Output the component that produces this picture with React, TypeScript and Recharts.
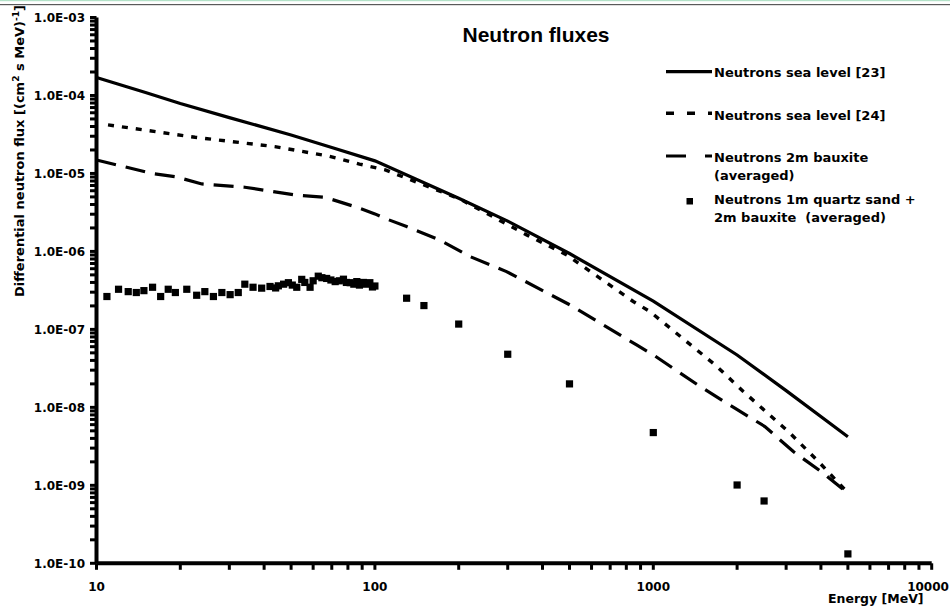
import React from 'react';
import { ComposedChart, Line, Scatter, XAxis, YAxis } from 'recharts';

const W = 950;
const H = 614;

// Neutrons sea level [23]
const sea23Energy = [10, 15, 20, 30, 50, 70, 100, 200, 300, 500, 1000, 2000, 3000, 5000];
const sea23Flux = [1.7e-4, 1.09e-4, 7.9e-5, 5.2e-5, 3.12e-5, 2.15e-5, 1.45e-5, 4.8e-6, 2.45e-6, 9.4e-7, 2.3e-7, 4.7e-8, 1.64e-8, 4.2e-9];

// Neutrons sea level [24]
const sea24Energy = [11, 22.6, 43.7, 68, 88, 109, 202, 351, 489, 847, 973, 1667, 2105, 3097, 3971, 5000];
const sea24Flux = [4.2e-5, 2.91e-5, 2.21e-5, 1.67e-5, 1.32e-5, 1.11e-5, 4.7e-6, 1.63e-6, 9.0e-7, 2.28e-7, 1.69e-7, 3.51e-8, 1.6e-8, 4.67e-9, 1.92e-9, 8.0e-10];

// Neutrons 2m bauxite (averaged)
const bauxEnergy = [10, 15.8, 19.2, 23.9, 34.1, 51.6, 66, 84.8, 100, 110, 130, 171, 220, 297, 502, 871, 1000, 1473, 1963, 2516, 3184, 4080, 5000];
const bauxFlux = [1.49e-5, 1.0e-5, 9.1e-6, 7.33e-6, 6.65e-6, 5.3e-6, 4.96e-6, 3.75e-6, 3.03e-6, 2.61e-6, 2.08e-6, 1.4e-6, 8.57e-7, 5.51e-7, 2.06e-7, 6.32e-8, 4.71e-8, 1.85e-8, 9.77e-9, 5.68e-9, 2.71e-9, 1.43e-9, 7.9e-10];

// Neutrons 1m quartz sand + 2m bauxite (averaged)
const quartzEnergy = [10.9, 12.0, 13.0, 13.9, 14.8, 15.9, 17.0, 18.1, 19.2, 21.1, 22.9, 24.5, 26.3, 28.2, 30.2, 32.3, 34.1, 36.5, 39.2, 42.0, 44, 45.0, 47, 48.9, 50.5, 52.4, 54.6, 56, 58.5, 60, 62.6, 64.5, 67.1, 69.5, 72.0, 74.5, 77.1, 79, 81.5, 84, 86.1, 88, 90.9, 93, 95.9, 98, 100, 130, 150, 200, 300, 500, 1000, 2000, 2500, 5000];
const quartzFlux = [2.64e-7, 3.27e-7, 3.05e-7, 2.97e-7, 3.14e-7, 3.47e-7, 2.64e-7, 3.27e-7, 2.97e-7, 3.27e-7, 2.74e-7, 3.05e-7, 2.64e-7, 2.97e-7, 2.79e-7, 2.97e-7, 3.8e-7, 3.47e-7, 3.38e-7, 3.55e-7, 3.4e-7, 3.62e-7, 3.8e-7, 3.97e-7, 3.7e-7, 3.47e-7, 4.38e-7, 4.0e-7, 3.47e-7, 4.2e-7, 4.81e-7, 4.6e-7, 4.5e-7, 4.3e-7, 4.1e-7, 4.2e-7, 4.4e-7, 4.0e-7, 3.97e-7, 3.8e-7, 4.1e-7, 3.7e-7, 4.0e-7, 3.8e-7, 3.97e-7, 3.5e-7, 3.6e-7, 2.51e-7, 2.02e-7, 1.17e-7, 4.8e-8, 2.0e-8, 4.75e-9, 1.01e-9, 6.3e-10, 1.32e-10];

const xTicks = [10, 20, 30, 40, 50, 60, 70, 80, 90, 100, 200, 300, 400, 500, 600, 700, 800, 900, 1000, 2000, 3000, 4000, 5000, 6000, 7000, 8000, 9000, 10000];
const yTicks = [
  1e-10, 2e-10, 3e-10, 4e-10, 5e-10, 6e-10, 7e-10, 8e-10, 9e-10,
  1e-9, 2e-9, 3e-9, 4e-9, 5e-9, 6e-9, 7e-9, 8e-9, 9e-9,
  1e-8, 2e-8, 3e-8, 4e-8, 5e-8, 6e-8, 7e-8, 8e-8, 9e-8,
  1e-7, 2e-7, 3e-7, 4e-7, 5e-7, 6e-7, 7e-7, 8e-7, 9e-7,
  1e-6, 2e-6, 3e-6, 4e-6, 5e-6, 6e-6, 7e-6, 8e-6, 9e-6,
  1e-5, 2e-5, 3e-5, 4e-5, 5e-5, 6e-5, 7e-5, 8e-5, 9e-5,
  1e-4, 2e-4, 3e-4, 4e-4, 5e-4, 6e-4, 7e-4, 8e-4, 9e-4,
  1e-3,
];

const zip = (es: number[], fs: number[]) => es.map((e, i) => ({ e, f: fs[i] }));
const sea23Data = zip(sea23Energy, sea23Flux);
const sea24Data = zip(sea24Energy, sea24Flux);
const bauxData = zip(bauxEnergy, bauxFlux);
const quartzData = zip(quartzEnergy, quartzFlux);

const FONT = '"DejaVu Sans", sans-serif';

const isMajor = (v: number) => Math.abs(Math.log10(v) - Math.round(Math.log10(v))) < 1e-6;

const YTick = (props: any) => {
  const { x, y, payload } = props;
  const v = payload.value as number;
  const exp = Math.round(Math.log10(v));
  return (
    <g>
      <line x1={x - 6.5} x2={x} y1={y} y2={y} stroke="#000" strokeWidth={3} />
      {isMajor(v) && (
        <text x={x - 11.5} y={y + 4.5} textAnchor="end" fontFamily={FONT} fontWeight="bold" fontSize={12} fill="#000">
          {`1.0E-${String(-exp).padStart(2, '0')}`}
        </text>
      )}
    </g>
  );
};

const XTick = (props: any) => {
  const { x, y, payload } = props;
  const v = payload.value as number;
  const lx = Math.min(x, 949 - 21);
  return (
    <g>
      <line x1={x} x2={x} y1={y} y2={y + 6.5} stroke="#000" strokeWidth={3} />
      {isMajor(v) && (
        <text x={lx} y={y + 28} textAnchor="middle" fontFamily={FONT} fontWeight="bold" fontSize={12} fill="#000">
          {String(v)}
        </text>
      )}
    </g>
  );
};

const SquareShape = (props: any) => {
  const { cx, cy } = props;
  if (cx == null || cy == null) return null;
  return <rect x={cx - 3.6} y={cy - 3.6} width={7.2} height={7.2} fill="#000" />;
};

const legendText = { fontFamily: FONT, fontWeight: 'bold' as const, fontSize: 13, fill: '#000' };

export default function App() {
  return (
    <div style={{ position: 'absolute', left: 0, top: 0, width: W, height: H, background: '#fff' }}>
      <ComposedChart width={W} height={H} margin={{ top: 17.5, right: 18.3, bottom: 0, left: 0 }}>
        <XAxis
          dataKey="e"
          type="number"
          scale="log"
          domain={[10, 10000]}
          allowDataOverflow
          ticks={xTicks}
          interval={0}
          height={50.7}
          tickSize={0}
          tickMargin={0}
          tickLine={false}
          axisLine={{ stroke: '#000', strokeWidth: 4 }}
          tick={<XTick />}
        />
        <YAxis
          dataKey="f"
          type="number"
          scale="log"
          domain={[1e-10, 1e-3]}
          allowDataOverflow
          ticks={yTicks}
          interval={0}
          width={96.5}
          tickSize={0}
          tickMargin={0}
          tickLine={false}
          axisLine={{ stroke: '#000', strokeWidth: 4 }}
          tick={<YTick />}
        />
        <Line data={sea23Data} dataKey="f" stroke="#000" strokeWidth={3.2} dot={false} activeDot={false} isAnimationActive={false} type="linear" />
        <Line data={sea24Data} dataKey="f" stroke="#000" strokeWidth={3.4} strokeDasharray="6 8" dot={false} activeDot={false} isAnimationActive={false} type="linear" />
        <Line data={bauxData} dataKey="f" stroke="#000" strokeWidth={3.2} strokeDasharray="20 10" dot={false} activeDot={false} isAnimationActive={false} type="linear" />
        <Scatter data={quartzData} dataKey="f" shape={SquareShape} isAnimationActive={false} />
      </ComposedChart>
      <svg width={W} height={H} style={{ position: 'absolute', left: 0, top: 0, pointerEvents: 'none' }}>
        <rect x={0} y={0} width={W} height={1.2} fill="#b4e2c8" />
        <rect x={0} y={4} width={W} height={1.2} fill="#5a5a5a" />
        <text x={536} y={42} textAnchor="middle" fontFamily='"Liberation Sans", Arial, sans-serif' fontWeight="bold" fontSize={21} fill="#000">
          Neutron fluxes
        </text>
        <g transform="translate(24,151) rotate(-90)">
          <text x={0} y={0} textAnchor="middle" fontFamily={FONT} fontWeight="bold" fontSize={13} fill="#000">
            Differential neutron flux [(cm<tspan fontSize={9} dy={-5}>2</tspan>
            <tspan dy={5}> s MeV)</tspan>
            <tspan fontSize={9} dy={-5}>-1</tspan>
            <tspan dy={5}>]</tspan>
          </text>
        </g>
        <text x={828} y={603.3} fontFamily={FONT} fontWeight="bold" fontSize={12.5} fill="#000">
          Energy [MeV]
        </text>
        {/* legend */}
        <line x1={666} x2={712} y1={71.7} y2={71.7} stroke="#000" strokeWidth={3.2} />
        <text x={714} y={77} {...legendText}>Neutrons sea level [23]</text>
        <line x1={666} x2={712} y1={113.3} y2={113.3} stroke="#000" strokeWidth={3.4} strokeDasharray="8 13" />
        <text x={714} y={120} {...legendText}>Neutrons sea level [24]</text>
        <line x1={666} x2={712} y1={156} y2={156} stroke="#000" strokeWidth={3.2} strokeDasharray="20 19" />
        <text x={714} y={161.5} {...legendText}>Neutrons 2m bauxite</text>
        <text x={714} y={180} {...legendText}>(averaged)</text>
        <rect x={686.5} y={198} width={6.5} height={6.5} fill="#000" />
        <text x={714} y={204} {...legendText}>Neutrons 1m quartz sand +</text>
        <text x={714} y={222} {...legendText} style={{ whiteSpace: 'pre' }}>2m bauxite  (averaged)</text>
      </svg>
    </div>
  );
}
